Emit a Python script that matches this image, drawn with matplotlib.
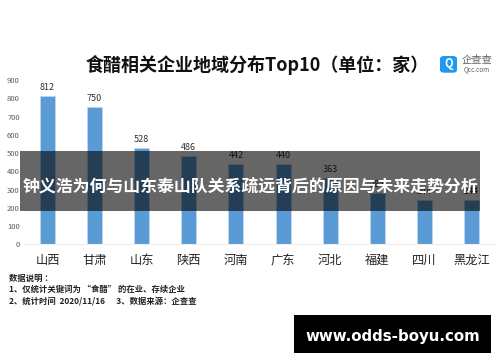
import matplotlib
matplotlib.use('Agg')
import matplotlib.pyplot as plt
from matplotlib.patches import Rectangle, FancyBboxPatch, Circle

plt.rcParams['font.family'] = ['Noto Sans CJK SC', 'DejaVu Sans']

provinces = ['山西', '甘肃', '山东', '陕西', '河南', '广东', '河北', '福建', '四川', '黑龙江']
counts = [812, 750, 528, 486, 442, 440, 363, 284, 244, 244]
yticks = [0, 100, 200, 300, 400, 500, 600, 700, 800, 900]
notes = ['数据说明 ：', '1、仅统计关键词为 “食醋” 的在业、存续企业', '2、统计时间  2020/11/16      3、数据来源：企查查']

W, H = 500, 362
fx = lambda x: x / W
fy = lambda y: 1 - y / H

fig = plt.figure(figsize=(5, 3.62), dpi=100)
ax = fig.add_axes([fx(24), fy(244.4), 471 / W, 164.4 / H])
ax.bar(range(10), counts, width=0.32, color='#5b9bd5', edgecolor='#bdd7ee', linewidth=0.6)
ax.set_xlim(-0.5, 9.5)
ax.set_ylim(0, 900)
ax.set_yticks(yticks)
ax.set_xticks(range(10))
ax.set_xticklabels(provinces, fontsize=8.8, fontweight='medium', color='#222222')
ax.tick_params(axis='y', length=0, labelsize=5.5, labelcolor='#595959', pad=3)
ax.tick_params(axis='x', length=0, pad=7)
for s in ['top', 'right', 'left']:
    ax.spines[s].set_visible(False)
ax.spines['bottom'].set_color('#eeeeee')
for i, c in enumerate(counts):
    ax.text(i, c + 22, str(c), ha='center', va='bottom', fontsize=6.5, color='#333333')

# title
fig.text(fx(257.5), fy(65), '食醋相关企业地域分布Top10（单位：家）', ha='center', va='center',
         fontsize=13, fontweight='bold', color='#111111')

# logo
fig.add_artist(FancyBboxPatch((fx(440), fy(72.7)), 17 / W, 16.7 / H, boxstyle='round,pad=0,rounding_size=0.008',
                              transform=fig.transFigure, fc='#1e9bf0', ec='none'))
fig.text(fx(448.5), fy(64), 'Q', ha='center', va='center', fontsize=8, fontweight='bold', color='white')
fig.text(fx(476.5), fy(60.5), '企查查', ha='center', va='center', fontsize=7.4, color='#666666')
fig.text(fx(476.5), fy(69.5), 'Qcc.com', ha='center', va='center', fontsize=4.6, color='#666666')

# notes
for y, line in zip([278.7, 289.3, 300.7], notes):
    fig.text(fx(9), fy(y), line, ha='left', va='center', fontsize=6, fontweight='bold', color='#222222')

# banner over chart
fig.add_artist(Rectangle((fx(20), fy(210.5)), 460 / W, 59.5 / H, transform=fig.transFigure,
                         fc='black', alpha=0.6, ec='none', zorder=5))
fig.text(fx(250), fy(186), '钟义浩为何与山东泰山队关系疏远背后的原因与未来走势分析', ha='center', va='center',
         fontsize=12.2, fontweight='bold', color='white', zorder=6)

# url box
fig.add_artist(Rectangle((fx(294), fy(353)), 197 / W, 38 / H, transform=fig.transFigure,
                         fc='black', ec='none', zorder=5))
fig.text(fx(392.5), fy(336), 'www.odds-boyu.com', ha='center', va='center', fontsize=10.8,
         fontweight='bold', family='DejaVu Sans', color='white', zorder=6)

fig.savefig('out.png', dpi=100)
